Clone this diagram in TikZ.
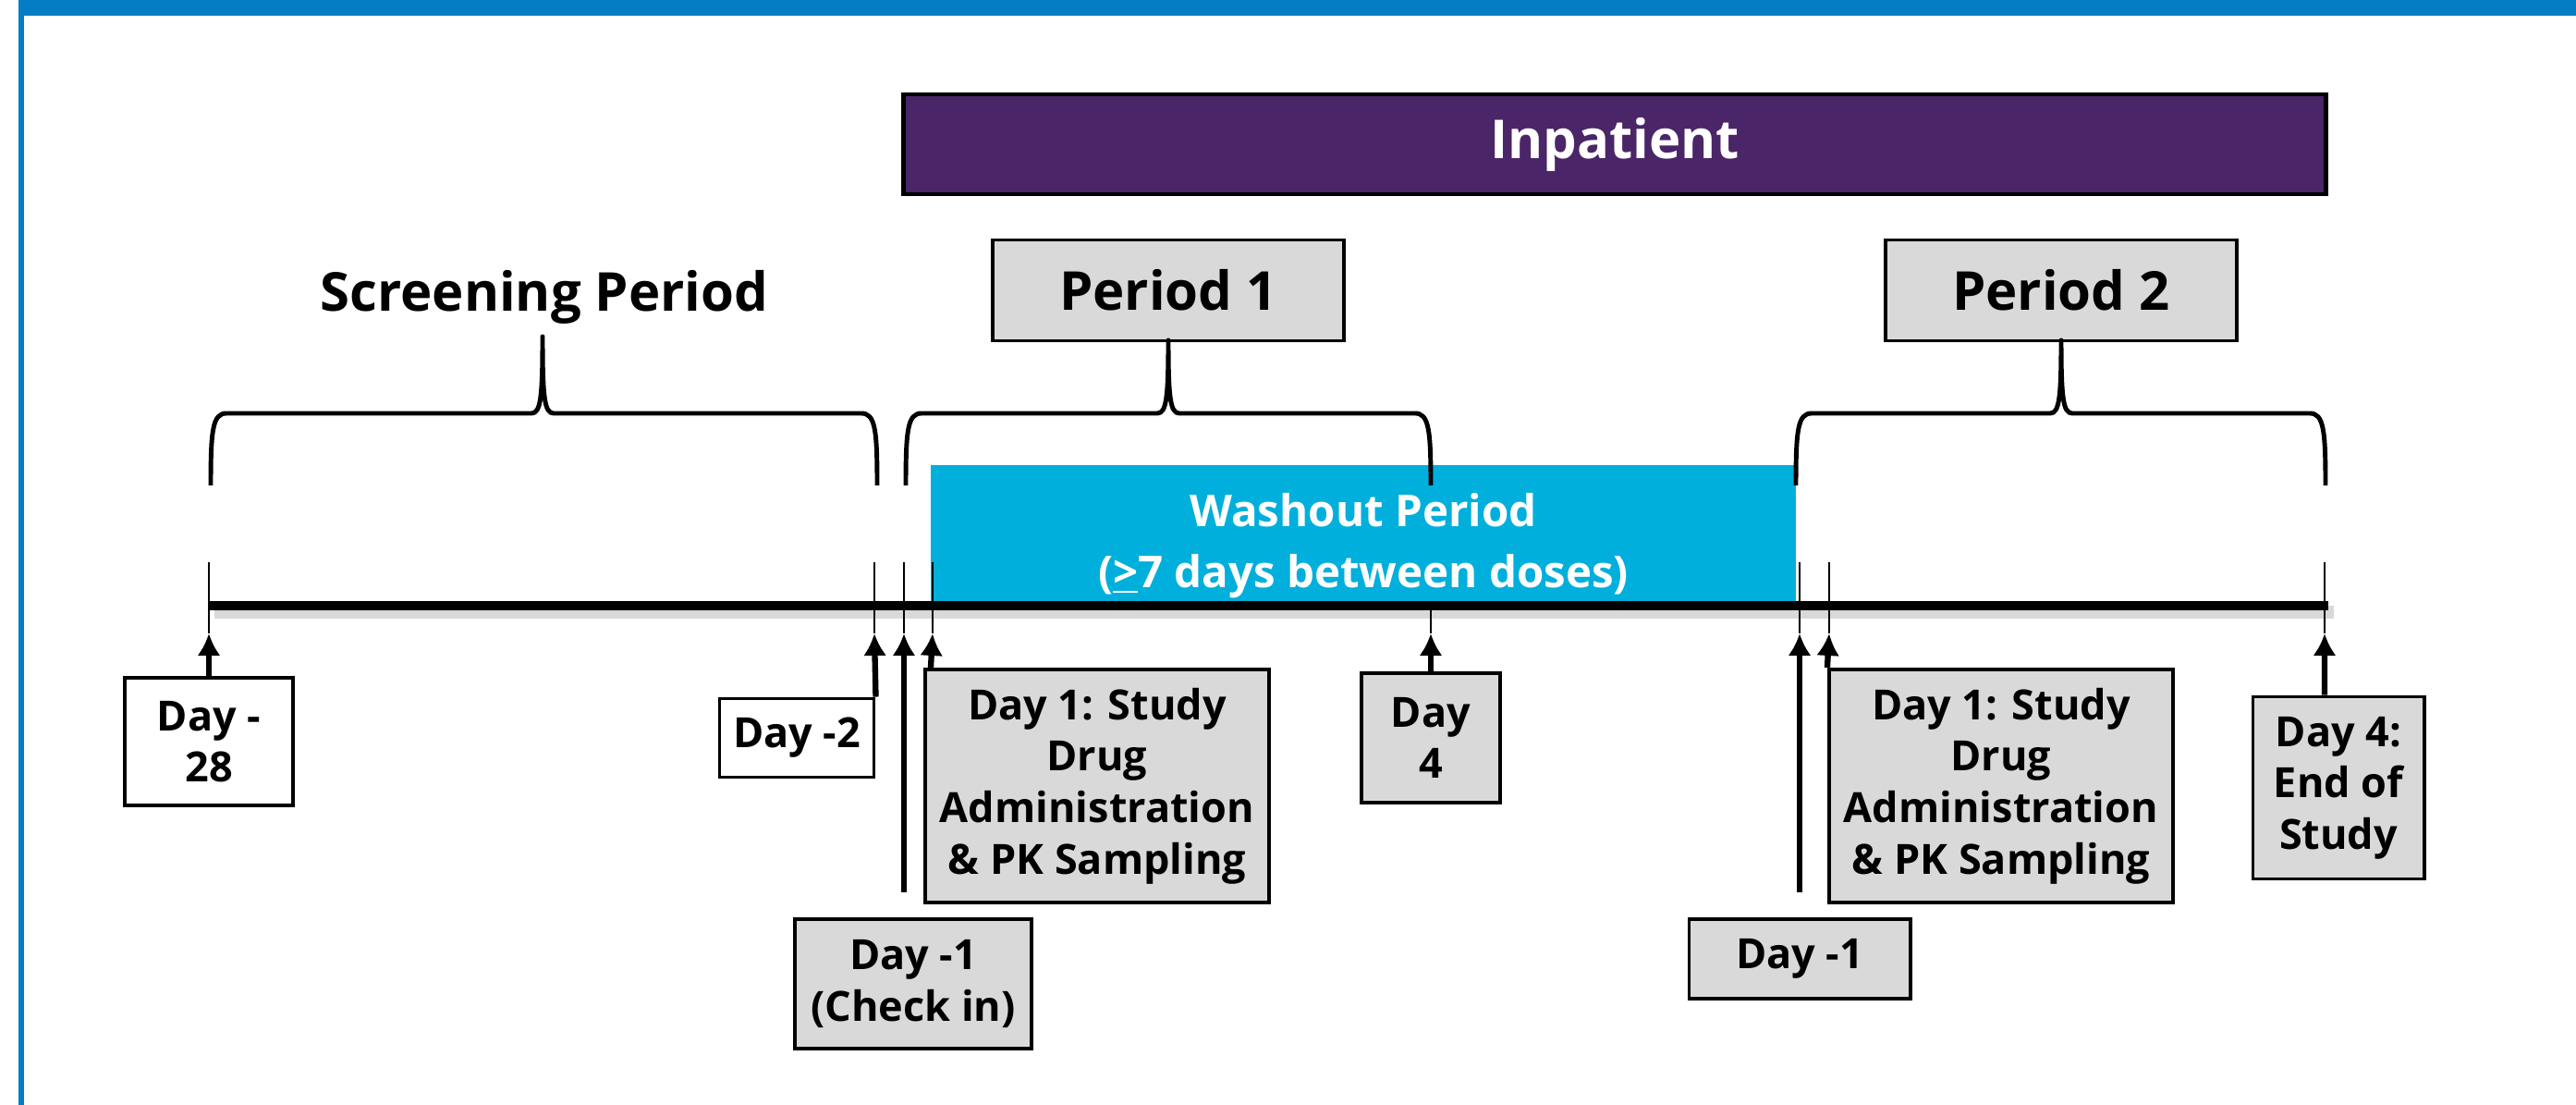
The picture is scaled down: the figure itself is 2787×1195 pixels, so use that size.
\documentclass[tikz,border=0pt]{standalone}
\usepackage{fontspec}
\setmainfont{Open Sans}
\usetikzlibrary{arrows.meta}

\definecolor{azulmarco}{RGB}{4,125,196}
\definecolor{morado}{RGB}{74,37,103}
\definecolor{celeste}{RGB}{0,175,219}
\definecolor{gris}{RGB}{217,217,217}

\begin{document}
\begin{tikzpicture}[x=0.01cm,y=-0.01cm,
		caja/.style={draw,line width=1.1pt,fill=gris,align=center,inner sep=0pt,font=\fontsize{12.8}{15.8}\selectfont\bfseries},
		titulo/.style={font=\fontsize{16.5}{19}\selectfont\bfseries},
		flecha/.style={line width=1.8pt,-{Latex[length=0.24cm,width=0.25cm]}},
		marca/.style={line width=0.8pt},
		llave/.style={line width=1.4pt,line join=round}]
		\useasboundingbox (0,0) rectangle (2787,1195);

		%Marco
		\fill[azulmarco] (20,0) rectangle (2787,17);
		\fill[azulmarco] (20,0) rectangle (26,1195);

		%Nodos
		\node[draw,line width=1.2pt,fill=morado,text=white,titulo,minimum width=15.38cm,minimum height=1.08cm] (ingreso) at (1747,156) {Inpatient};
		\node[titulo] (cribado) at (589,321) {Screening Period};
		\node[caja,titulo,minimum width=3.8cm,minimum height=1.09cm] (periodo1) at (1264,314) {Period 1};
		\node[caja,titulo,minimum width=3.8cm,minimum height=1.09cm] (periodo2) at (2230,314) {Period 2};
		\node[fill=celeste,minimum width=9.36cm,minimum height=1.47cm] (lavado) at (1475,577) {};
		\node[text=white,align=center,font=\fontsize{13.5}{18.6}\selectfont\bfseries] (lavadotxt) at (1475,590) {Washout Period\\(\underline{>}7 days between doses)};

		\node[caja,fill=white,minimum width=1.82cm,minimum height=1.38cm] (dia28) at (226,802) {Day -\\28};
		\node[caja,fill=white,minimum width=1.67cm,minimum height=0.85cm] (dia2) at (862,798) {Day -2};
		\node[caja,minimum width=2.56cm,minimum height=1.4cm] (dia1ing) at (988,1064) {Day -1\\(Check in)};
		\node[caja,minimum width=3.72cm,minimum height=2.51cm] (dia1a) at (1187,850) {Day 1: Study\\Drug\\Administration\\\& PK Sampling};
		\node[caja,minimum width=1.5cm,minimum height=1.4cm] (dia4) at (1548,798) {Day\\4};
		\node[caja,minimum width=2.39cm,minimum height=0.86cm] (dia1rei) at (1947,1037) {Day -1};
		\node[caja,minimum width=3.72cm,minimum height=2.52cm] (dia1b) at (2165,850) {Day 1: Study\\Drug\\Administration\\\& PK Sampling};
		\node[caja,minimum width=1.85cm,minimum height=1.97cm] (dia4fin) at (2530,852) {Day 4:\\End of\\Study};

		%Puntos
		\coordinate (linea0) at (226,655);
		\coordinate (linea1) at (2519,655);
		\coordinate (m28) at (226,608);
		\coordinate (p28) at (226,685);
		\coordinate (m2) at (946,608);
		\coordinate (p2) at (946,685);
		\coordinate (m1a) at (978,608);
		\coordinate (p1a) at (978,685);
		\coordinate (b1a) at (978,965);
		\coordinate (m1) at (1009,608);
		\coordinate (p1) at (1009,685);
		\coordinate (l4) at (1548,655);
		\coordinate (p4) at (1548,685);
		\coordinate (m1b) at (1947,608);
		\coordinate (p1b) at (1947,685);
		\coordinate (b1b) at (1947,965);
		\coordinate (m1c) at (1979,608);
		\coordinate (p1c) at (1979,685);
		\coordinate (mfin) at (2515,608);
		\coordinate (pfin) at (2515,685);

		%Llaves
		\draw[llave] (228,525) .. controls (228,465) and (230,447) .. (245,447) -- (575,447) .. controls (585,447) and (587,430) .. (587,364) .. controls (587,430) and (589,447) .. (599,447) -- (932,447) .. controls (947,447) and (949,465) .. (949,525);
		\draw[llave] (980,525) .. controls (980,465) and (982,447) .. (997,447) -- (1252,447) .. controls (1262,447) and (1264,430) .. (1264,368) .. controls (1264,430) and (1266,447) .. (1276,447) -- (1531,447) .. controls (1546,447) and (1548,465) .. (1548,525);
		\draw[llave] (1943,525) .. controls (1943,465) and (1945,447) .. (1960,447) -- (2218,447) .. controls (2228,447) and (2230,430) .. (2230,368) .. controls (2230,430) and (2232,447) .. (2242,447) -- (2499,447) .. controls (2514,447) and (2516,465) .. (2516,525);

		%Linea
		\draw[line width=0.14cm,black!15] (232,662) -- (2525,662);
		\draw[line width=0.1cm] (linea0) -- (linea1);

		%Arcos
		\draw[marca] (m28) -- (p28);
		\draw[flecha] (dia28.north) -- (p28);
		\draw[marca] (m2) -- (p2);
		\draw[flecha] (dia2.north east) -- (p2);
		\draw[marca] (m1a) -- (p1a);
		\draw[flecha] (b1a) -- (p1a);
		\draw[marca] (m1) -- (p1);
		\draw[flecha] ([xshift=0.08cm]dia1a.north west) -- (p1);
		\draw[marca] (l4) -- (p4);
		\draw[flecha] (dia4.north) -- (p4);
		\draw[marca] (m1b) -- (p1b);
		\draw[flecha] (b1b) -- (p1b);
		\draw[marca] (m1c) -- (p1c);
		\draw[flecha] (dia1b.north west) -- (p1c);
		\draw[marca] (mfin) -- (pfin);
		\draw[flecha] ([xshift=-0.15cm]dia4fin.north) -- (pfin);
\end{tikzpicture}
\end{document}
